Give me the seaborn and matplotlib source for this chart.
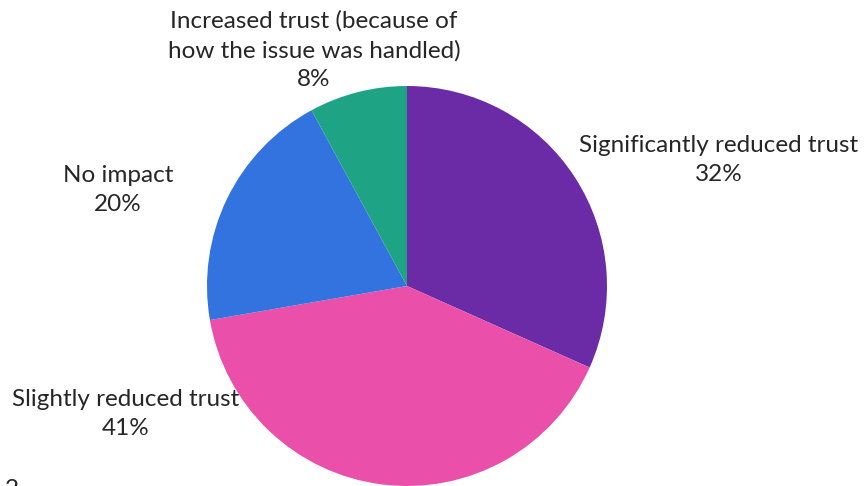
import matplotlib
matplotlib.use("Agg")
import matplotlib.pyplot as plt
import seaborn as sns

sns.set_style("white")
plt.rcParams['font.family'] = ['Lato', 'DejaVu Sans']

# data
categories = [
    "Significantly reduced trust",
    "Slightly reduced trust",
    "No impact",
    "Increased trust (because of\nhow the issue was handled)",
]
shares = [32, 41, 20, 8]
colors = ["#6C2BA6", "#EA4FAA", "#3373E0", "#1FA385"]

# label anchor points in pixel space (x from left, y from top)
label_pos = [(719, 160), (126, 414), (118, 190), (314, 50)]

W, H = 864, 486
fig = plt.figure(figsize=(W / 100, H / 100), dpi=100)
ax = fig.add_axes([0, 0, 1, 1])

cx, cy, r = 407, H - 286, 200
ax.pie(shares, colors=colors, startangle=90, counterclock=False,
       center=(cx, cy), radius=r, frame=True,
       wedgeprops=dict(linewidth=0))
ax.set_xlim(0, W)
ax.set_ylim(0, H)
ax.axis('off')

for name, val, (px, py) in zip(categories, shares, label_pos):
    ax.text(px, H - py, f"{name}\n{val}%", ha='center', va='center',
            fontsize=17.5, color='#262626', linespacing=1.45)

# cropped page artifact in the corner
ax.text(5, -4, "2", ha='left', va='center', fontsize=17.5, color='#262626')

fig.savefig("out.png", dpi=100)
